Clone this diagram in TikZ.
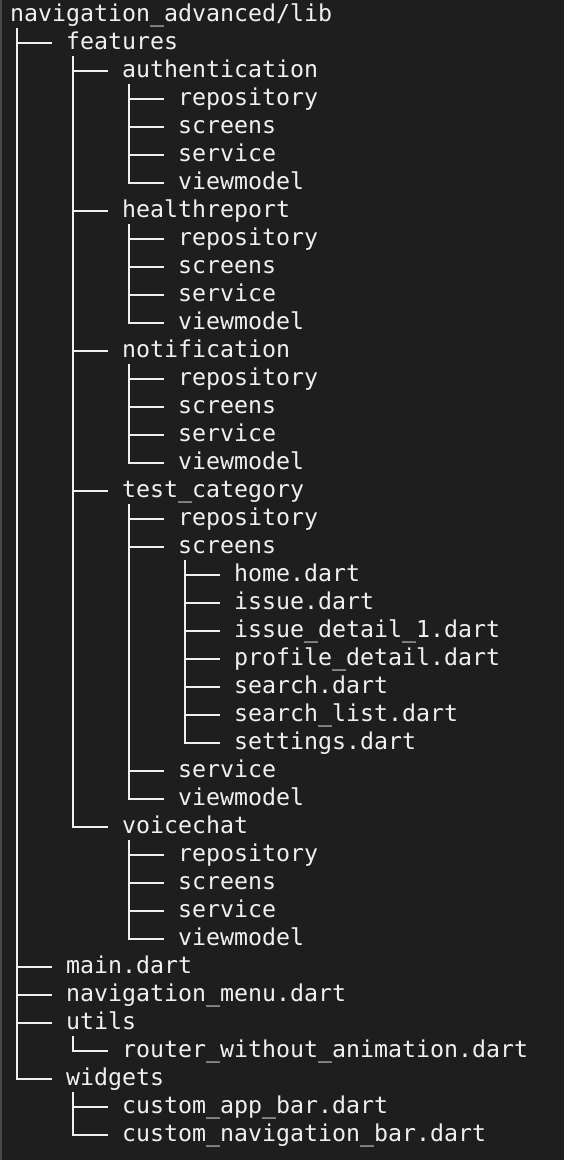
\documentclass[tikz,border=0pt]{standalone}
\usepackage{fontspec}
\setmonofont{DejaVu Sans Mono}
\definecolor{termbg}{RGB}{30,30,30}
\definecolor{termfg}{RGB}{240,240,240}
\definecolor{termedge}{RGB}{72,72,72}
\tikzset{
  entry/.style={anchor=west, inner sep=0pt, text height=20pt, text depth=7pt,
    text=termfg, font=\ttfamily\fontsize{23.25}{28}\selectfont},
  branch/.style={draw=termfg, line width=2pt}
}
\begin{document}
\begin{tikzpicture}[x=1pt, y=1pt]
\fill [termbg] (0,0) rectangle (564,-1160);
\fill [termedge] (0,0) rectangle (2,-1160);
% folders and files
\draw (10,-14.5) node[entry] (root) {navigation\_advanced/lib};
\draw (66,-42.5) node[entry] (features) {features};
\draw (122,-70.5) node[entry] (auth) {authentication};
\draw (178,-98.5) node[entry] (authrepo) {repository};
\draw (178,-126.5) node[entry] (authscreens) {screens};
\draw (178,-154.5) node[entry] (authservice) {service};
\draw (178,-182.5) node[entry] (authvm) {viewmodel};
\draw (122,-210.5) node[entry] (health) {healthreport};
\draw (178,-238.5) node[entry] (healthrepo) {repository};
\draw (178,-266.5) node[entry] (healthscreens) {screens};
\draw (178,-294.5) node[entry] (healthservice) {service};
\draw (178,-322.5) node[entry] (healthvm) {viewmodel};
\draw (122,-350.5) node[entry] (notif) {notification};
\draw (178,-378.5) node[entry] (notifrepo) {repository};
\draw (178,-406.5) node[entry] (notifscreens) {screens};
\draw (178,-434.5) node[entry] (notifservice) {service};
\draw (178,-462.5) node[entry] (notifvm) {viewmodel};
\draw (122,-490.5) node[entry] (testcat) {test\_category};
\draw (178,-518.5) node[entry] (testrepo) {repository};
\draw (178,-546.5) node[entry] (testscreens) {screens};
\draw (234,-574.5) node[entry] (home) {home.dart};
\draw (234,-602.5) node[entry] (issue) {issue.dart};
\draw (234,-630.5) node[entry] (issuedetail) {issue\_detail\_1.dart};
\draw (234,-658.5) node[entry] (profiledetail) {profile\_detail.dart};
\draw (234,-686.5) node[entry] (search) {search.dart};
\draw (234,-714.5) node[entry] (searchlist) {search\_list.dart};
\draw (234,-742.5) node[entry] (settings) {settings.dart};
\draw (178,-770.5) node[entry] (testservice) {service};
\draw (178,-798.5) node[entry] (testvm) {viewmodel};
\draw (122,-826.5) node[entry] (voice) {voicechat};
\draw (178,-854.5) node[entry] (voicerepo) {repository};
\draw (178,-882.5) node[entry] (voicescreens) {screens};
\draw (178,-910.5) node[entry] (voiceservice) {service};
\draw (178,-938.5) node[entry] (voicevm) {viewmodel};
\draw (66,-966.5) node[entry] (main) {main.dart};
\draw (66,-994.5) node[entry] (navmenu) {navigation\_menu.dart};
\draw (66,-1022.5) node[entry] (utils) {utils};
\draw (122,-1050.5) node[entry] (router) {router\_without\_animation.dart};
\draw (66,-1078.5) node[entry] (widgets) {widgets};
\draw (122,-1106.5) node[entry] (appbar) {custom\_app\_bar.dart};
\draw (122,-1134.5) node[entry] (navbar) {custom\_navigation\_bar.dart};
% tree lines
\draw [branch] ([xshift=7pt]root.south west) |- ([xshift=-14pt]features.west);
\draw [branch] ([xshift=7pt]root.south west) |- ([xshift=-14pt]main.west);
\draw [branch] ([xshift=7pt]root.south west) |- ([xshift=-14pt]navmenu.west);
\draw [branch] ([xshift=7pt]root.south west) |- ([xshift=-14pt]utils.west);
\draw [branch] ([xshift=7pt]root.south west) |- ([xshift=-14pt]widgets.west);
\draw [branch] ([xshift=7pt]features.south west) |- ([xshift=-14pt]auth.west);
\draw [branch] ([xshift=7pt]features.south west) |- ([xshift=-14pt]health.west);
\draw [branch] ([xshift=7pt]features.south west) |- ([xshift=-14pt]notif.west);
\draw [branch] ([xshift=7pt]features.south west) |- ([xshift=-14pt]testcat.west);
\draw [branch] ([xshift=7pt]features.south west) |- ([xshift=-14pt]voice.west);
\draw [branch] ([xshift=7pt]auth.south west) |- ([xshift=-14pt]authrepo.west);
\draw [branch] ([xshift=7pt]auth.south west) |- ([xshift=-14pt]authscreens.west);
\draw [branch] ([xshift=7pt]auth.south west) |- ([xshift=-14pt]authservice.west);
\draw [branch] ([xshift=7pt]auth.south west) |- ([xshift=-14pt]authvm.west);
\draw [branch] ([xshift=7pt]health.south west) |- ([xshift=-14pt]healthrepo.west);
\draw [branch] ([xshift=7pt]health.south west) |- ([xshift=-14pt]healthscreens.west);
\draw [branch] ([xshift=7pt]health.south west) |- ([xshift=-14pt]healthservice.west);
\draw [branch] ([xshift=7pt]health.south west) |- ([xshift=-14pt]healthvm.west);
\draw [branch] ([xshift=7pt]notif.south west) |- ([xshift=-14pt]notifrepo.west);
\draw [branch] ([xshift=7pt]notif.south west) |- ([xshift=-14pt]notifscreens.west);
\draw [branch] ([xshift=7pt]notif.south west) |- ([xshift=-14pt]notifservice.west);
\draw [branch] ([xshift=7pt]notif.south west) |- ([xshift=-14pt]notifvm.west);
\draw [branch] ([xshift=7pt]testcat.south west) |- ([xshift=-14pt]testrepo.west);
\draw [branch] ([xshift=7pt]testcat.south west) |- ([xshift=-14pt]testscreens.west);
\draw [branch] ([xshift=7pt]testcat.south west) |- ([xshift=-14pt]testservice.west);
\draw [branch] ([xshift=7pt]testcat.south west) |- ([xshift=-14pt]testvm.west);
\draw [branch] ([xshift=7pt]testscreens.south west) |- ([xshift=-14pt]home.west);
\draw [branch] ([xshift=7pt]testscreens.south west) |- ([xshift=-14pt]issue.west);
\draw [branch] ([xshift=7pt]testscreens.south west) |- ([xshift=-14pt]issuedetail.west);
\draw [branch] ([xshift=7pt]testscreens.south west) |- ([xshift=-14pt]profiledetail.west);
\draw [branch] ([xshift=7pt]testscreens.south west) |- ([xshift=-14pt]search.west);
\draw [branch] ([xshift=7pt]testscreens.south west) |- ([xshift=-14pt]searchlist.west);
\draw [branch] ([xshift=7pt]testscreens.south west) |- ([xshift=-14pt]settings.west);
\draw [branch] ([xshift=7pt]voice.south west) |- ([xshift=-14pt]voicerepo.west);
\draw [branch] ([xshift=7pt]voice.south west) |- ([xshift=-14pt]voicescreens.west);
\draw [branch] ([xshift=7pt]voice.south west) |- ([xshift=-14pt]voiceservice.west);
\draw [branch] ([xshift=7pt]voice.south west) |- ([xshift=-14pt]voicevm.west);
\draw [branch] ([xshift=7pt]utils.south west) |- ([xshift=-14pt]router.west);
\draw [branch] ([xshift=7pt]widgets.south west) |- ([xshift=-14pt]appbar.west);
\draw [branch] ([xshift=7pt]widgets.south west) |- ([xshift=-14pt]navbar.west);
\end{tikzpicture}
\end{document}
